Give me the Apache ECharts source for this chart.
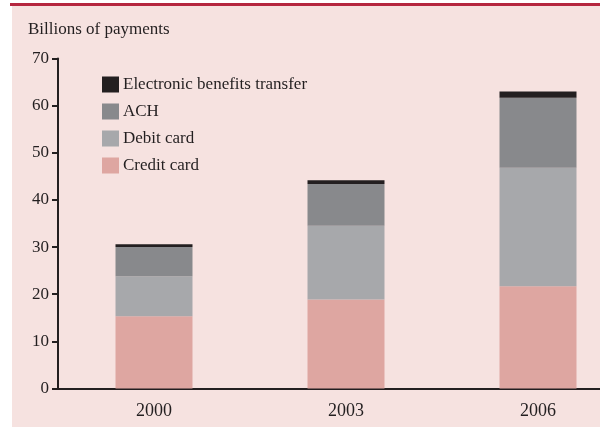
<!DOCTYPE html>
<html>
<head>
<meta charset="utf-8">
<script src="https://cdn.jsdelivr.net/npm/echarts@6/dist/echarts.min.js"></script>
<style>
  html, body { margin: 0; padding: 0; background: #fff; }
  #chart { width: 600px; height: 427px; }
</style>
</head>
<body>
<div id="chart"></div>
<script>
var years = ["2000", "2003", "2006"];
var creditCard = [15.3, 18.9, 21.7];
var debitCard = [8.5, 15.6, 25.1];
var ach = [6.2, 8.9, 14.9];
var ebt = [0.6, 0.8, 1.3];
var yTicks = { min: 0, max: 70, interval: 10 };

var font = "Liberation Serif";
var ink = "#231f20";

function bar(name, data, color) {
  return {
    name: name,
    type: "bar",
    stack: "total",
    barWidth: 77,
    data: data,
    itemStyle: { color: color }
  };
}

var chart = echarts.init(document.getElementById("chart"));
chart.setOption({
  animation: false,
  textStyle: { fontFamily: font, color: ink },
  graphic: [
    {
      type: "rect",
      z: -10,
      shape: { x: 12, y: 6, width: 588, height: 421 },
      style: { fill: "#f6e2e0" }
    },
    {
      type: "rect",
      z: -9,
      shape: { x: 10, y: 3, width: 590, height: 3 },
      style: { fill: "#b5263f" }
    }
  ],
  title: {
    text: "Billions of payments",
    left: 23,
    top: 16,
    textStyle: { fontFamily: font, fontSize: 17, fontWeight: "normal", color: ink }
  },
  legend: {
    orient: "vertical",
    left: 97,
    top: 71,
    itemWidth: 17,
    itemHeight: 16,
    itemGap: 10,
    icon: "rect",
    data: ["Electronic benefits transfer", "ACH", "Debit card", "Credit card"],
    textStyle: { fontFamily: font, fontSize: 17, color: ink, padding: [0, 0, 0, -1] }
  },
  grid: { left: 58, top: 58.5, width: 576, bottom: 38.5, outerBoundsMode: "none" },
  xAxis: {
    type: "category",
    data: years,
    axisLine: { lineStyle: { color: ink, width: 2 } },
    axisTick: { show: false },
    axisLabel: { fontFamily: font, fontSize: 18, color: ink, margin: 14 }
  },
  yAxis: {
    type: "value",
    min: yTicks.min,
    max: yTicks.max,
    interval: yTicks.interval,
    splitLine: { show: false },
    axisLine: { show: true, lineStyle: { color: ink, width: 2 } },
    axisTick: { show: true, length: 6, lineStyle: { color: ink, width: 2 } },
    axisLabel: { fontFamily: font, fontSize: 17, color: ink, margin: 9 }
  },
  series: [
    bar("Credit card", creditCard, "#dea6a1"),
    bar("Debit card", debitCard, "#a7a8ab"),
    bar("ACH", ach, "#88898c"),
    bar("Electronic benefits transfer", ebt, "#231f20")
  ]
});
</script>
</body>
</html>
